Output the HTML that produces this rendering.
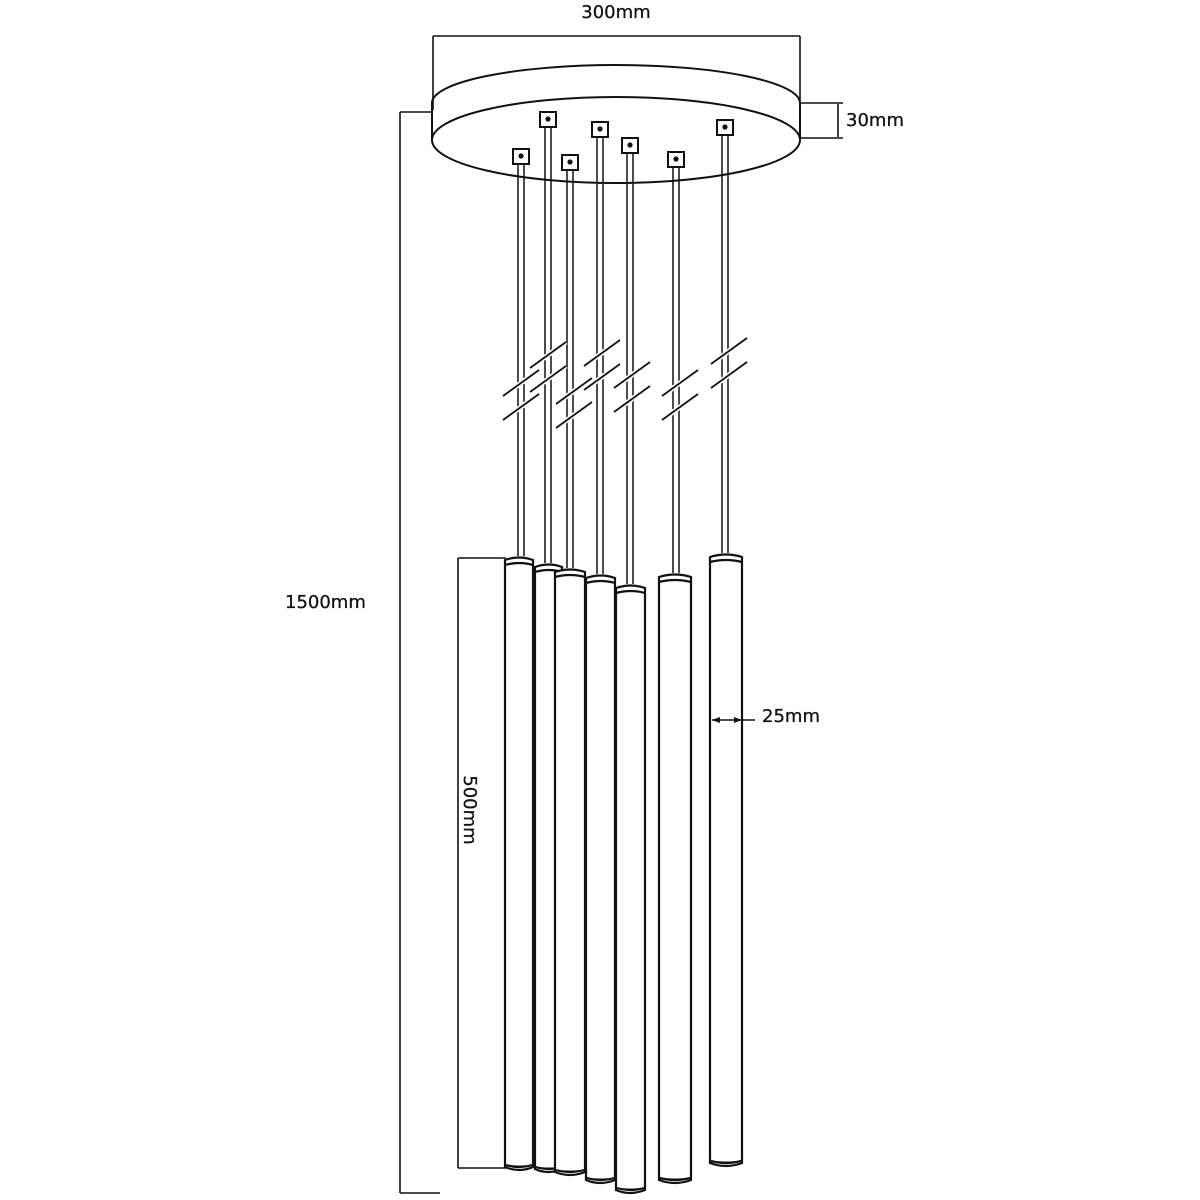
<!DOCTYPE html>
<html><head><style>body{margin:0;background:#fff}svg{display:block}text{font-family:"DejaVu Sans","Liberation Sans",sans-serif;font-size:18px;fill:#111;stroke:#111;stroke-width:0.3}</style></head>
<body>
<svg width="1200" height="1200" viewBox="0 0 1200 1200" xmlns="http://www.w3.org/2000/svg">
<g stroke="#111" fill="none" stroke-width="1.6">
<path d="M432,103 A184,38 0 0 1 800,103 L800,140 A184,43 0 0 1 432,140 Z" fill="#fff" stroke-width="2"/>
<path d="M432,140 A184,43 0 0 1 800,140" stroke-width="2"/>
<line x1="433" y1="36" x2="800" y2="36"/>
<line x1="433" y1="36" x2="433" y2="110"/>
<line x1="800" y1="36" x2="800" y2="104"/>
<line x1="800" y1="103" x2="843" y2="103"/>
<line x1="800" y1="138" x2="843" y2="138"/>
<line x1="838" y1="104" x2="838" y2="137"/>
<line x1="400" y1="112" x2="432" y2="112"/>
<line x1="400" y1="112" x2="400" y2="1193"/>
<line x1="400" y1="1193" x2="440" y2="1193"/>
</g>
<g stroke="#111" stroke-width="1.5" fill="none">
<path d="M518,163V556M524,163V556 M545,126V563M551,126V563 M567,169V568M573,169V568 M597,136V574M603,136V574 M627,152V584M633,152V584 M673,166V573M679,166V573 M722,134V553M728,134V553"/>
</g>
<g stroke="#fff" stroke-width="5" fill="none">
<path d="M503,396l36,-26M503,420l36,-26 M530,368l36,-26M530,392l36,-26 M556,404l36,-26M556,428l36,-26 M584,366l36,-26M584,390l36,-26 M614,388l36,-26M614,412l36,-26 M662,396l36,-26M662,420l36,-26 M711,364l36,-26M711,388l36,-26"/>
</g>
<g stroke="#111" stroke-width="1.8" fill="none">
<path d="M503,396l36,-26M503,420l36,-26 M530,368l36,-26M530,392l36,-26 M556,404l36,-26M556,428l36,-26 M584,366l36,-26M584,390l36,-26 M614,388l36,-26M614,412l36,-26 M662,396l36,-26M662,420l36,-26 M711,364l36,-26M711,388l36,-26"/>
</g>
<g stroke="#111" stroke-width="2" fill="#fff">
<rect x="513" y="149" width="16" height="15"/><rect x="540" y="112" width="16" height="15"/>
<rect x="562" y="155" width="16" height="15"/><rect x="592" y="122" width="16" height="15"/>
<rect x="622" y="138" width="16" height="15"/><rect x="668" y="152" width="16" height="15"/>
<rect x="717" y="120" width="16" height="15"/>
</g>
<g fill="#111">
<circle cx="521" cy="156" r="2.6"/><circle cx="548" cy="119" r="2.6"/><circle cx="570" cy="162" r="2.6"/><circle cx="600" cy="129" r="2.6"/><circle cx="630" cy="145" r="2.6"/><circle cx="676" cy="159" r="2.6"/><circle cx="725" cy="127" r="2.6"/>
</g>
<g stroke="#111" stroke-width="2.2" fill="#fff">
<g><path d="M535,567 q14,-5 27,0 V1169 q-14,6 -27,0 Z"/><path d="M535,572 q14,-4 27,0" /><path d="M536,1167 q13,4 25,0" fill="#999"/></g>
<g><path d="M505,560 q14,-5 28,0 V1167 q-14,6 -28,0 Z"/><path d="M505,565 q14,-4 28,0"/><path d="M506,1165 q13,4 26,0" fill="#999"/></g>
<g><path d="M555,572 q15,-5 30,0 V1172 q-15,6 -30,0 Z"/><path d="M555,577 q15,-4 30,0"/><path d="M556,1170 q14,4 28,0" fill="#999"/></g>
<g><path d="M586,578 q15,-5 29,0 V1180 q-15,6 -29,0 Z"/><path d="M586,583 q15,-4 29,0"/><path d="M587,1178 q14,4 27,0" fill="#999"/></g>
<g><path d="M616,588 q15,-5 29,0 V1190 q-15,6 -29,0 Z"/><path d="M616,593 q15,-4 29,0"/><path d="M617,1188 q14,4 27,0" fill="#999"/></g>
<g><path d="M659,577 q16,-5 32,0 V1180 q-16,6 -32,0 Z"/><path d="M659,582 q16,-4 32,0"/><path d="M660,1178 q15,4 30,0" fill="#999"/></g>
<g><path d="M710,557 q16,-5 32,0 V1163 q-16,6 -32,0 Z"/><path d="M710,562 q16,-4 32,0"/><path d="M711,1161 q15,4 30,0" fill="#999"/></g>
</g>
<g stroke="#111" fill="none" stroke-width="1.6">
<line x1="458" y1="558" x2="506" y2="558"/>
<line x1="458" y1="558" x2="458" y2="1168"/>
<line x1="458" y1="1168" x2="506" y2="1168"/>
<line x1="712" y1="720" x2="755" y2="720"/>
</g>
<path d="M712,720 l8,-3 v6 z M742,720 l-8,-3 v6 z" fill="#111"/>
<text x="616" y="18" text-anchor="middle">300mm</text>
<text x="846" y="126">30mm</text>
<text x="285" y="608">1500mm</text>
<text x="762" y="722">25mm</text>
<text transform="translate(464,810) rotate(90)" text-anchor="middle">500mm</text>
</svg>
</body></html>
